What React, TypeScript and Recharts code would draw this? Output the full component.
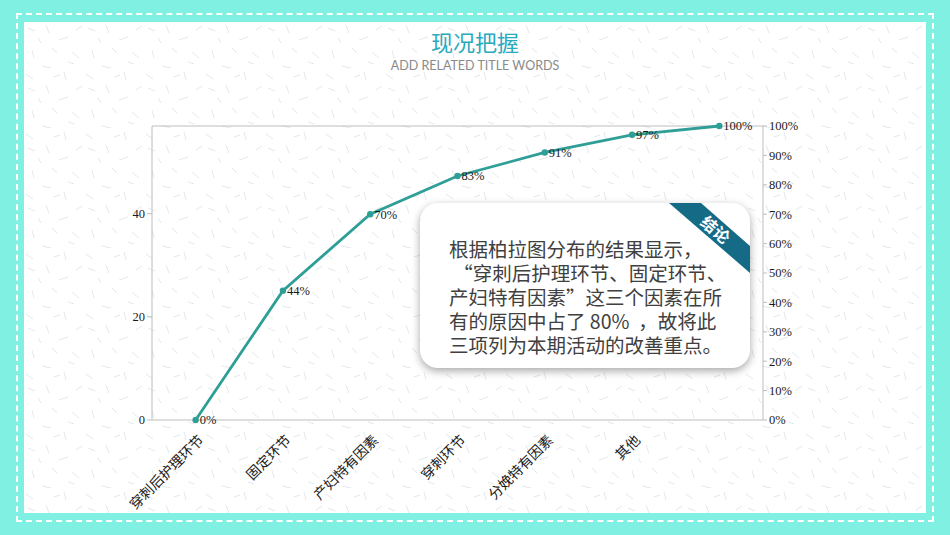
import {
  ComposedChart,
  LabelList,
  Line,
  ReferenceLine,
  XAxis,
  YAxis,
} from "recharts";

const TEAL_LINE = "#2E9E97";
const AXIS_GREY = "#BDBDBD";
const BORDER_TEAL = "#7FF0E1";

// Ursachen (letzte Spalte ohne Beschriftung)
const CATEGORIES = ["穿刺后护理环节", "固定环节", "产妇特有因素", "穿刺环节", "分娩特有因素", "其他", ""];
// kumulierter Anteil in %
const CUMULATIVE = [0, 44, 70, 83, 91, 97, 100];
const LEFT_TICKS = [0, 20, 40];
const RIGHT_TICKS = [0, 10, 20, 30, 40, 50, 60, 70, 80, 90, 100];

const NOTE_LINES = [
  "根据柏拉图分布的结果显示，",
  " “穿刺后护理环节、固定环节、",
  "产妇特有因素”这三个因素在所",
  "有的原因中占了 80%  ，故将此",
  "三项列为本期活动的改善重点。",
];

const data = CATEGORIES.map((name, i) => ({ name, pct: CUMULATIVE[i] }));

// Papier-Struktur: ein paar kurze Striche als Kachel
const SPECKS: Array<[number, number, number, number]> = [
  [4, 6, 11, 9], [22, 3, 25, 11], [35, 18, 44, 15], [8, 28, 10, 36], [48, 30, 55, 36],
  [18, 44, 27, 46], [40, 50, 42, 58], [2, 52, 9, 57], [28, 26, 33, 31], [52, 8, 58, 4],
  [14, 16, 17, 21], [44, 40, 50, 42], [30, 55, 36, 53],
];

function CategoryTick(props: any) {
  const { x, y, payload } = props;
  return (
    <text
      x={x}
      y={y + 4}
      transform={`rotate(-45 ${x} ${y + 4})`}
      textAnchor="end"
      dominantBaseline="hanging"
      fontSize={14}
      fontFamily="'Noto Sans CJK SC', sans-serif"
      fill="#1a1a1a"
    >
      {payload.value}
    </text>
  );
}

const serifTick = { fontSize: 12.5, fill: "#1a1a1a", fontFamily: "'Liberation Serif', serif" };

export default function App() {
  return (
    <div style={{ position: "absolute", left: 0, top: 0, width: 950, height: 535, background: BORDER_TEAL, overflow: "hidden" }}>
      <div
        style={{
          position: "absolute",
          left: 16,
          top: 13,
          width: 918,
          height: 509,
          border: "2px dashed #ffffff",
          boxSizing: "border-box",
        }}
      />
      <svg style={{ position: "absolute", left: 24, top: 22 }} width={902} height={491}>
        <defs>
          <pattern id="paper" width="60" height="60" patternUnits="userSpaceOnUse">
            <rect width="60" height="60" fill="#ffffff" />
            {SPECKS.map(([a, b, c, d], i) => (
              <line key={i} x1={a} y1={b} x2={c} y2={d} stroke="#9FB7C2" strokeOpacity={0.4} strokeWidth={0.8} />
            ))}
          </pattern>
        </defs>
        <rect width={902} height={491} fill="url(#paper)" />
      </svg>

      <div
        style={{
          position: "absolute",
          left: 0,
          width: 950,
          top: 27,
          textAlign: "center",
          fontFamily: "'Noto Sans CJK SC', sans-serif",
          fontSize: 22,
          color: "#29AABD",
          lineHeight: "28px",
        }}
      >
        现况把握
      </div>
      <div
        style={{
          position: "absolute",
          left: 0,
          width: 950,
          top: 58,
          textAlign: "center",
          fontFamily: "Lato, 'Open Sans', sans-serif",
          fontSize: 12.5,
          color: "#8A8A8A",
          lineHeight: "16px",
        }}
      >
        ADD RELATED TITLE WORDS
      </div>

      <div style={{ position: "absolute", left: 0, top: 0 }}>
        <ComposedChart width={950} height={535} data={data} margin={{ top: 126, right: 142, bottom: 35, left: 112 }}>
          <XAxis
            dataKey="name"
            xAxisId="x"
            scale="band"
            height={80}
            stroke={AXIS_GREY}
            tickLine={false}
            tick={<CategoryTick />}
            interval={0}
          />
          <YAxis
            yAxisId="left"
            orientation="left"
            width={40}
            domain={[0, 57]}
            allowDataOverflow
            ticks={LEFT_TICKS}
            stroke={AXIS_GREY}
            tickSize={5}
            tick={serifTick}
          />
          <YAxis
            yAxisId="right"
            orientation="right"
            width={45}
            domain={[0, 100]}
            ticks={RIGHT_TICKS}
            stroke={AXIS_GREY}
            tickSize={4}
            tickFormatter={(v: number) => `${v}%`}
            tick={serifTick}
          />
          <ReferenceLine y={100} xAxisId="x" yAxisId="right" stroke={AXIS_GREY} />
          {/* unsichtbare Serie, damit die linke Achse gezeichnet wird */}
          <Line
            xAxisId="x"
            yAxisId="left"
            dataKey="pct"
            stroke="none"
            dot={false}
            activeDot={false}
            legendType="none"
            isAnimationActive={false}
          />
          <Line
            xAxisId="x"
            yAxisId="right"
            dataKey="pct"
            type="linear"
            stroke={TEAL_LINE}
            strokeWidth={2.8}
            dot={{ r: 1.8, fill: TEAL_LINE, stroke: TEAL_LINE }}
            isAnimationActive={false}
          >
            <LabelList
              dataKey="pct"
              position="right"
              offset={4}
              formatter={((v: unknown) => `${v}%`) as never}
              style={serifTick}
            />
          </Line>
        </ComposedChart>
      </div>

      <div
        style={{
          position: "absolute",
          left: 420,
          top: 203,
          width: 330,
          height: 165,
          background: "#ffffff",
          borderRadius: 18,
          boxShadow: "0 3px 8px rgba(0,0,0,0.35)",
          overflow: "hidden",
        }}
      >
        <svg style={{ position: "absolute", left: 0, top: 0 }} width={330} height={165}>
          <polygon points="249,0 281,0 330,43 330,70" fill="#156B86" />
          <text
            x={296}
            y={26}
            transform="rotate(41 296 26)"
            textAnchor="middle"
            dominantBaseline="central"
            fontSize={16}
            fontWeight={700}
            fill="#ffffff"
            fontFamily="'Noto Sans CJK SC', sans-serif"
          >
            结论
          </text>
        </svg>
        <div
          style={{
            position: "absolute",
            left: 29,
            top: 34,
            fontFamily: "'Noto Sans CJK SC', sans-serif",
            fontSize: 19.5,
            lineHeight: "24px",
            color: "#404040",
            whiteSpace: "pre",
          }}
        >
          {NOTE_LINES.map((l, i) => (
            <div key={i}>{l}</div>
          ))}
        </div>
      </div>
    </div>
  );
}
